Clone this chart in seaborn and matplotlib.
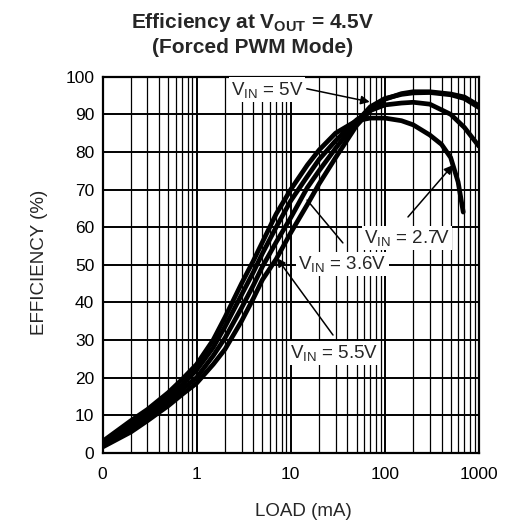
import numpy as np
import pandas as pd
import seaborn as sns
import matplotlib
matplotlib.use("Agg")
from matplotlib import pyplot as plt
from matplotlib.ticker import LogLocator, FixedLocator, FixedFormatter, NullFormatter, MultipleLocator

# Data
load = [0.1, 0.2, 0.3, 0.5, 0.7, 1, 1.5, 2, 3, 4, 5, 7, 10, 15, 20, 30, 50, 70,
        100, 150, 200, 300, 500, 700, 1000]
load_27 = [0.1, 0.2, 0.3, 0.5, 0.7, 1, 1.5, 2, 3, 4, 5, 7, 10, 15, 20, 30, 50, 70,
           100, 150, 200, 300, 400, 500, 600, 680]

eff_27 = [3, 8.5, 11.5, 16, 19.5, 23.5, 30, 36, 45, 51, 56, 63.5, 70, 76.5,
          80.5, 85, 88.3, 89, 89, 88.3, 87.2, 84.5, 82, 78.5, 72, 64]
eff_36 = [2.5, 7.5, 10.5, 15, 18, 22, 28, 33.5, 42, 48, 53, 60, 67, 73.5,
          78, 83, 88.5, 91, 92.5, 93, 93.2, 92.7, 90, 86.5, 81.5]
eff_50 = [2, 6.5, 9.5, 13.8, 16.8, 20, 25.8, 30.5, 38.5, 44.5, 49.5, 56, 62.5, 70.5,
          75, 81, 88, 92, 94.2, 95.3, 95.7, 95.8, 95.2, 94.2, 91.8]
eff_55 = [1.5, 5.5, 8.5, 12.5, 15.5, 18.5, 23.5, 27.5, 35, 41, 46, 51.5, 58.5, 66,
          71.5, 78.5, 87, 91, 94, 95.5, 96, 96, 95.4, 94.6, 92.3]

x_ticks = [0.1, 1, 10, 100, 1000]
x_tick_labels = ["0", "1", "10", "100", "1000"]

df = pd.concat([
    pd.DataFrame({"load": load_27, "eff": eff_27, "vin": "2.7V"}),
    pd.DataFrame({"load": load, "eff": eff_36, "vin": "3.6V"}),
    pd.DataFrame({"load": load, "eff": eff_50, "vin": "5V"}),
    pd.DataFrame({"load": load, "eff": eff_55, "vin": "5.5V"}),
])

sns.set_style("white")
plt.rcParams["font.family"] = ["Liberation Sans", "DejaVu Sans"]
plt.rcParams["mathtext.fontset"] = "custom"
plt.rcParams["mathtext.rm"] = "Liberation Sans"
plt.rcParams["mathtext.bf"] = "Liberation Sans:bold"
plt.rcParams["mathtext.it"] = "Liberation Sans:italic"

fig = plt.figure(figsize=(5.05, 5.28), dpi=100)
ax = fig.add_axes([0.203, 0.1426, 0.7455, 0.7121])

for v in ["2.7V", "3.6V", "5V", "5.5V"]:
    sns.lineplot(data=df[df.vin == v], x="load", y="eff", ax=ax, color="black",
                 lw=3.4, zorder=3, estimator=None, sort=True, legend=False)

ax.set_xscale("log")
ax.set_xlim(0.1, 1000)
ax.set_ylim(0, 100)
ax.xaxis.set_major_locator(FixedLocator(x_ticks))
ax.xaxis.set_major_formatter(FixedFormatter(x_tick_labels))
ax.xaxis.set_minor_locator(LogLocator(base=10, subs=np.arange(2, 10)))
ax.xaxis.set_minor_formatter(NullFormatter())
ax.yaxis.set_major_locator(MultipleLocator(10))

ax.grid(which="major", color="black", lw=1.4, zorder=1)
ax.grid(which="minor", axis="x", color="black", lw=0.9, zorder=1)
ax.set_axisbelow(True)
for s in ax.spines.values():
    s.set_color("black")
    s.set_linewidth(1.6)

ax.tick_params(which="both", length=0, labelsize=12.5, colors="black")
ax.tick_params(axis="x", pad=10)
ax.tick_params(axis="y", pad=6)
ax.set_xlabel("")
ax.set_ylabel("")

fig.text(303 / 505, 1 - 512 / 528, "LOAD (mA)", ha="center", va="center", fontsize=13.5)
fig.text(40 / 505, 1 - 262 / 528, "EFFICIENCY (%)", ha="center", va="center",
         rotation=90, fontsize=13.5)

fig.text(0.5, 1 - 28 / 528, "Efficiency at V$_{\\mathbf{OUT}}$ = 4.5V",
         ha="center", va="baseline", fontsize=15, fontweight="bold")
fig.text(0.5, 1 - 53 / 528, "(Forced PWM Mode)",
         ha="center", va="baseline", fontsize=15, fontweight="bold")

box = dict(facecolor="white", edgecolor="none", pad=1.5)
labels = [("V$_{\\mathrm{IN}}$ = 5V", 5.6, 96.6),
          ("V$_{\\mathrm{IN}}$ = 2.7V", 173, 57.2),
          ("V$_{\\mathrm{IN}}$ = 3.6V", 35.4, 50.2),
          ("V$_{\\mathrm{IN}}$ = 5.5V", 28.8, 26.5)]
for txt, lx, ly in labels:
    ax.text(lx, ly, txt, ha="center", va="center", fontsize=13.5, bbox=box, zorder=5)

arrows = [((14.8, 96.8), (69, 93.3), "-|>"),
          ((176, 62.7), (528, 76.5), "-|>"),
          ((35.8, 55.8), (14.9, 67.2), "-"),
          ((28.1, 31.3), (7.1, 51.8), "-|>")]
for start, tip, style in arrows:
    ax.annotate("", xy=tip, xytext=start, zorder=6,
                arrowprops=dict(arrowstyle=style, color="black", lw=1.1,
                                mutation_scale=13, shrinkA=0, shrinkB=0))

fig.savefig("out.png", dpi=100)
